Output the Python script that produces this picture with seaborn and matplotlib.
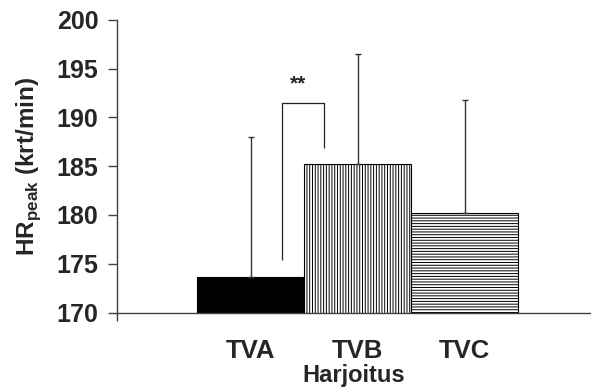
import matplotlib
matplotlib.use("Agg")
import matplotlib.pyplot as plt
import seaborn as sns
import pandas as pd

# Peak heart rate per training session (mean and upper SD)
sessions = ["TVA", "TVB", "TVC"]
hr_mean = [173.6, 185.2, 180.2]
hr_sd = [14.4, 11.3, 11.6]

y_ticks = [170, 175, 180, 185, 190, 195, 200]

# significance bracket between TVA and TVB
bracket_x = [0.29, 0.29, 0.69, 0.69]
bracket_y = [175.4, 191.5, 191.5, 186.9]
sig_label = "**"

sns.set_theme(style="white")
plt.rcParams["font.family"] = ["Liberation Sans", "DejaVu Sans"]
plt.rcParams["mathtext.fontset"] = "custom"
plt.rcParams["mathtext.rm"] = "Liberation Sans"
plt.rcParams["mathtext.bf"] = "Liberation Sans:bold"
plt.rcParams["hatch.linewidth"] = 0.7

df = pd.DataFrame({"Harjoitus": sessions, "HR": hr_mean})

fig = plt.figure(figsize=(5.91, 3.92), dpi=100)
ax = fig.add_axes([0.1975, 0.2028, 0.8025, 0.7469])

sns.barplot(data=df, x="Harjoitus", y="HR", width=1.0, color="white",
            edgecolor="black", linewidth=0.8, ax=ax)

fills = [("black", None), ("white", "||||||"), ("white", "------")]
for patch, (fc, hatch) in zip(ax.patches, fills):
    patch.set_facecolor(fc)
    patch.set_hatch(hatch)
    patch.set_edgecolor("black")

ax.errorbar(range(len(sessions)), hr_mean,
            yerr=[[0] * len(hr_sd), hr_sd], fmt="none",
            ecolor="#333333", elinewidth=1.0, capsize=2.2, capthick=1.0,
            zorder=3)

ax.plot(bracket_x, bracket_y, color="#222222", lw=0.9, solid_capstyle="butt")
ax.text((bracket_x[0] + bracket_x[2]) / 2 - 0.05, bracket_y[1] + 0.9, sig_label,
        ha="center", va="bottom", fontsize=15, fontweight="bold")

ax.set_ylim(170, 200)
ax.set_xlim(-1.25, 3.18)
ax.set_yticks(y_ticks)
ax.set_yticklabels([str(t) for t in y_ticks], fontsize=18, fontweight="bold")
ax.set_xticks(range(len(sessions)))
ax.set_xticklabels(sessions, fontsize=18.5, fontweight="bold")
ax.set_xticks([-1.25], minor=True)

ax.tick_params(axis="y", which="major", direction="out", length=6.2,
               width=1.0, color="#404040", pad=7, left=True)
ax.tick_params(axis="x", which="major", length=0, pad=19)
ax.tick_params(axis="x", which="minor", direction="out", length=6,
               width=1.0, color="#404040", bottom=True)

for side in ["top", "right"]:
    ax.spines[side].set_visible(False)
for side in ["left", "bottom"]:
    ax.spines[side].set_color("#404040")
    ax.spines[side].set_linewidth(1.0)

ax.set_xlabel("Harjoitus", fontsize=17, fontweight="bold", labelpad=0.5)
ax.set_ylabel(r"$\mathbf{HR}_{\mathbf{peak}}$ (krt/min)", fontsize=17.5,
              fontweight="bold")
ax.yaxis.set_label_coords(-0.155, 0.5)
ax.grid(False)

fig.savefig("out.png", dpi=100)
